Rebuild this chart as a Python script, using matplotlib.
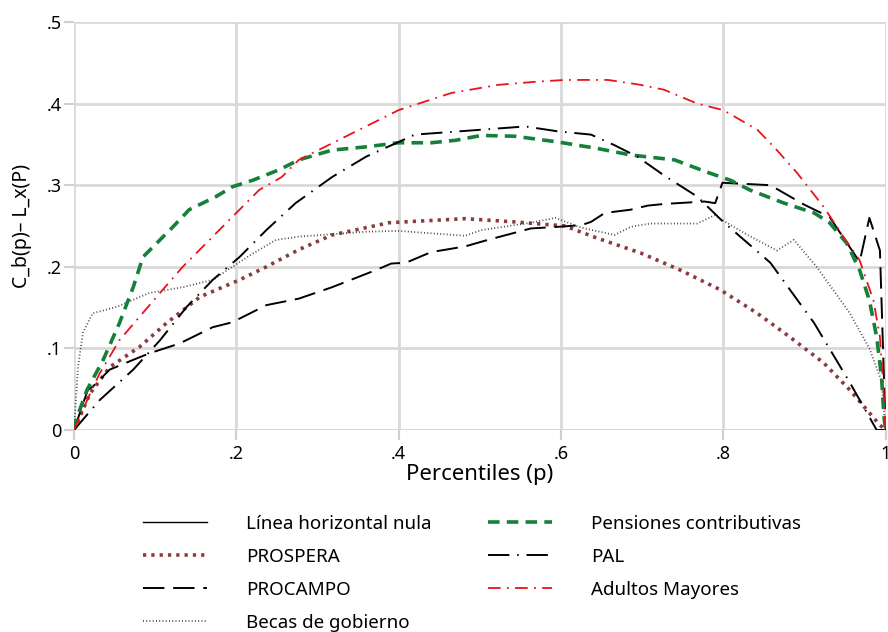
import matplotlib.pyplot as plt
import numpy as np

plt.rcParams['font.family'] = ['Noto Sans', 'DejaVu Sans']

# Pensiones contributivas
pen_x = [0, .001, .016, .036, .056, .073, .085, .102, .122, .142, .175, .195, .22, .253, .277,
         .318, .36, .4, .44, .47, .502, .543, .596, .645, .686, .74, .78, .809, .833, .875,
         .912, .931, .952, .968, .98, .989, .995, .998, 1.0]
pen_y = [0, .008, .049, .086, .131, .175, .212, .229, .249, .27, .286, .298, .306, .319, .331,
         .343, .347, .352, .352, .355, .361, .36, .353, .345, .337, .331, .316, .306, .294, .278,
         .266, .254, .229, .196, .159, .114, .065, .016, 0]

# Adultos Mayores
adu_x = [0, .02, .032, .056, .081, .106, .134, .163, .195, .228, .256, .277, .4, .465, .523,
         .572, .605, .658, .698, .727, .768, .8, .842, .866, .891, .924, .948, .968, .985,
         .993, .997, 1.0]
adu_y = [0, .045, .07, .11, .139, .168, .2, .229, .261, .294, .31, .331, .392, .413, .423,
         .427, .429, .429, .423, .417, .4, .392, .368, .343, .315, .273, .237, .208, .159,
         .114, .058, 0]

# PAL
pal_x = [0, .032, .073, .106, .139, .171, .204, .237, .273, .318, .36, .4, .42, .461, .502,
         .556, .596, .637, .666, .694, .727, .768, .8, .858, .912, .956, .989, 1.0]
pal_y = [0, .037, .074, .11, .151, .184, .212, .245, .278, .31, .335, .353, .362, .365, .368,
         .372, .366, .362, .349, .335, .312, .286, .255, .205, .131, .058, 0, 0]

# PROCAMPO
pro_x = [0, .017, .023, .044, .073, .093, .13, .171, .195, .237, .277, .318, .372, .391, .409,
         .44, .482, .51, .563, .596, .625, .637, .654, .686, .707, .727, .777, .79, .799, .858,
         .9, .931, .968, .98, .993, 1.0]
pro_y = [0, .049, .053, .074, .086, .094, .106, .126, .132, .153, .161, .175, .196, .204, .205,
         .218, .225, .233, .247, .249, .251, .255, .266, .27, .275, .277, .28, .278, .303, .3,
         .276, .261, .206, .26, .22, 0]

# PROSPERA
prs_x = [0, .02, .044, .081, .114, .155, .204, .237, .277, .318, .388, .482, .543, .605, .645,
         .698, .747, .796, .842, .882, .924, .956, .98, .993, 1.0]
prs_y = [0, .045, .077, .102, .131, .163, .184, .2, .221, .239, .254, .259, .255, .25, .235,
         .217, .196, .172, .143, .114, .082, .049, .021, .006, 0]

# Becas de gobierno
bec_x = [0, .005, .011, .023, .053, .093, .134, .171, .195, .22, .249, .277, .36, .4, .482,
         .502, .563, .593, .625, .666, .686, .71, .768, .789, .83, .866, .887, .915, .956,
         .98, .995, 1.0]
bec_y = [0, .077, .119, .143, .151, .168, .175, .184, .2, .216, .233, .237, .243, .244, .238,
         .245, .254, .26, .248, .239, .249, .253, .253, .263, .239, .22, .233, .2, .143,
         .1, .06, 0]

x_ticks = [0, .2, .4, .6, .8, 1]
x_labels = ['0', '.2', '.4', '.6', '.8', '1']
y_ticks = [0, .1, .2, .3, .4, .5]
y_labels = ['0', '.1', '.2', '.3', '.4', '.5']

fig = plt.figure(figsize=(8.88, 6.32), dpi=100)
ax = fig.add_axes([0.0833, 0.3196, 0.914, 0.6456])

ax.plot([0, 1], [0, 0], color='black', lw=1, zorder=0.4, label='Línea horizontal nula')
ax.plot(prs_x, prs_y, color='#8b3a3e', lw=2.6, linestyle=(0, (0.9, 1.4)),
        label='PROSPERA')
ax.plot(pro_x, pro_y, color='black', lw=1.4, linestyle=(0, (11, 4.5)), label='PROCAMPO')
ax.plot(bec_x, bec_y, color='#3a3a3a', lw=1.3, linestyle=(0, (0.5, 1.3)),
        label='Becas de gobierno')
ax.plot(pen_x, pen_y, color='#14803a', lw=2.6, linestyle=(0, (3.2, 2.0)),
        label='Pensiones contributivas')
ax.plot(pal_x, pal_y, color='black', lw=1.4, linestyle=(0, (11, 4, 0.8, 4)), label='PAL')
ax.plot(adu_x, adu_y, color='#e8141c', lw=1.3, linestyle=(0, (7, 3.5, 1, 3.5)),
        label='Adultos Mayores')

ax.set_xlim(0, 1)
ax.set_ylim(0, 0.5)
ax.set_xticks(x_ticks)
ax.set_xticklabels(x_labels)
ax.set_yticks(y_ticks)
ax.set_yticklabels(y_labels)
ax.grid(True, color='#d9d9d9', lw=2)
ax.set_axisbelow(True)
for s in ax.spines.values():
    s.set_visible(False)
ax.tick_params(axis='both', colors='#d0d0d0', length=7, width=1.5, labelcolor='black',
               labelsize=13)
ax.tick_params(axis='y', pad=2)
ax.set_xlabel('Percentiles (p)', fontsize=16, labelpad=1)
ax.set_ylabel('C_b(p)– L_x(P)', fontsize=14, labelpad=10)

fig.legend(loc='upper left', bbox_to_anchor=(0.142, 0.212), ncol=2, frameon=False,
           fontsize=13.5, handlelength=3.4, handletextpad=2.1, columnspacing=3.0,
           labelspacing=0.8)

fig.savefig('out.png', dpi=100)
